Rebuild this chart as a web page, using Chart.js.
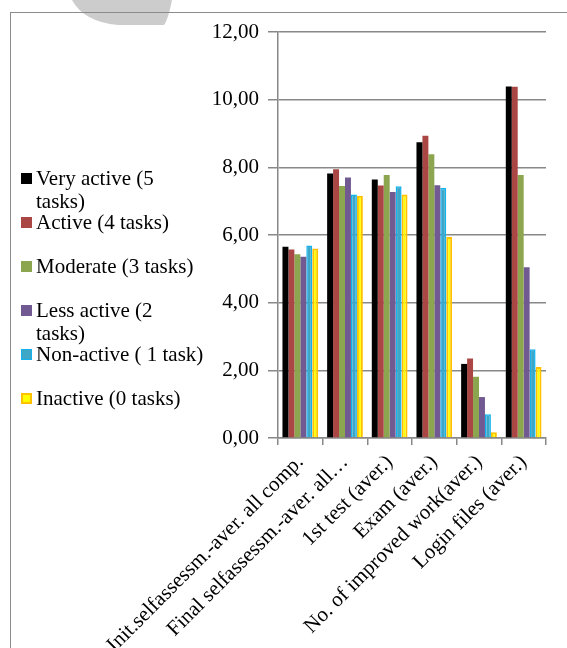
<!DOCTYPE html>
<html>
<head>
<meta charset="utf-8">
<script src="https://cdn.jsdelivr.net/npm/chart.js@4.4.1/dist/chart.umd.min.js"></script>
<style>
  html, body { margin: 0; padding: 0; background: #fff; }
  #page { position: relative; width: 567px; height: 648px; overflow: hidden; }
  #frame { position: absolute; left: 10px; top: 12px; width: 600px; height: 700px; border: 1.5px solid #8c8c8c; }
  #blob { position: absolute; left: 0; top: 0; }
  #chartBox { position: absolute; left: 0; top: 0; width: 567px; height: 648px; }
  #legend { position: absolute; left: 0; top: 0; font-family: "Liberation Serif", "Times New Roman", serif; font-size: 21px; color: #000; }
  .item { position: absolute; left: 36px; width: 169px; line-height: 23px; }
  .swatch { position: absolute; left: -15px; top: 6px; width: 11px; height: 11px; box-sizing: border-box; }
</style>
</head>
<body>
<div id="page">
  <svg id="blob" width="200" height="30"><path d="M72,0 Q84,22 118,25 L164,25 Q168,20 172,0 Z" fill="#cccccc"/></svg>
  <div id="frame"></div>
  <div id="chartBox"><canvas id="barChartCanvas" width="567" height="648"></canvas></div>
  <div id="legend"></div>
</div>
<script>
const categories = [
  "Init.selfassessm.-aver. all comp.",
  "Final selfassessm.-aver. all…",
  "1st test (aver.)",
  "Exam (aver.)",
  "No. of improved work(aver.)",
  "Login files (aver.)",
];

const seriesNames = [
  "Very active (5 tasks)",
  "Active (4 tasks)",
  "Moderate (3 tasks)",
  "Less active (2 tasks)",
  "Non-active ( 1 task)",
  "Inactive (0 tasks)",
];

const veryActive = [5.65, 7.82, 7.64, 8.74, 2.19, 10.39];
const active = [5.57, 7.94, 7.46, 8.93, 2.35, 10.38];
const moderate = [5.43, 7.45, 7.77, 8.39, 1.81, 7.77];
const lessActive = [5.36, 7.70, 7.27, 7.47, 1.21, 5.05];
const nonActive = [5.69, 7.20, 7.44, 7.39, 0.70, 2.62];
const inactive = [5.60, 7.16, 7.20, 5.94, 0.17, 2.10];

const yTicks = [0, 2, 4, 6, 8, 10, 12];

const fills = ["#000000", "#AA4744", "#8CA54F", "#715A92", "#3EA6C6", "#FFFF00"];
const borders = ["#000000", "#AA4744", "#8CA54F", "#715A92", "#12B2EE", "#FFC000"];
const borderWidths = [0, 0, 0, 0, 1.5, 2];
const values = [veryActive, active, moderate, lessActive, nonActive, inactive];

const serif = "'Liberation Serif', 'Times New Roman', serif";
const gray = "#888888";

// chart area edges
const AREA_LEFT = 278, AREA_BOTTOM = 438;
const PAD = { top: 32, right: 21, bottom: 0, left: 10 };

const data = {
  labels: categories,
  datasets: seriesNames.map((name, i) => ({
    label: name,
    data: values[i],
    backgroundColor: fills[i],
    borderColor: borders[i],
    borderWidth: borderWidths[i],
    borderSkipped: "bottom",
    categoryPercentage: 0.8,
    barPercentage: 1.0,
  })),
};

const options = {
  responsive: false,
  animation: false,
  devicePixelRatio: 1,
  layout: { padding: PAD },
  plugins: {
    legend: { display: false },
    tooltip: { enabled: false },
  },
  scales: {
    x: {
      grid: {
        display: true,
        drawOnChartArea: false,
        color: gray,
        lineWidth: 1.5,
        tickLength: 7,
      },
      border: { color: gray, width: 1.5 },
      ticks: {
        maxRotation: 45,
        minRotation: 45,
        autoSkip: false,
        padding: 5,
        color: "#000",
        font: { family: serif, size: 21 },
      },
      afterFit: (scale) => {
        scale.height = 648 - AREA_BOTTOM - PAD.bottom;
        scale.paddingLeft = 0;
        scale.paddingRight = 0;
      },
    },
    y: {
      min: 0,
      max: 12,
      afterBuildTicks: (scale) => {
        scale.ticks = yTicks.map((v) => ({ value: v }));
      },
      grid: {
        color: gray,
        lineWidth: 1.5,
        tickLength: 10,
      },
      border: { color: gray, width: 1.5 },
      ticks: {
        padding: 9,
        color: "#000",
        font: { family: serif, size: 21 },
        callback: (v) => v.toFixed(2).replace(".", ","),
      },
      afterFit: (scale) => {
        scale.width = AREA_LEFT - PAD.left;
        scale.paddingTop = 0;
        scale.paddingBottom = 0;
      },
    },
  },
};

const ctx = document.getElementById("barChartCanvas").getContext("2d");
const chart = new Chart(ctx, { type: "bar", data, options });

// legend on the left, same spacing as the reference
const legend = document.getElementById("legend");
seriesNames.forEach((name, i) => {
  const item = document.createElement("div");
  item.className = "item";
  item.style.top = (167 + 44 * i) + "px";
  const sw = document.createElement("span");
  sw.className = "swatch";
  sw.style.background = fills[i];
  if (borderWidths[i]) sw.style.border = borderWidths[i] + "px solid " + borders[i];
  item.appendChild(sw);
  item.appendChild(document.createTextNode(name));
  legend.appendChild(item);
});
</script>
</body>
</html>
